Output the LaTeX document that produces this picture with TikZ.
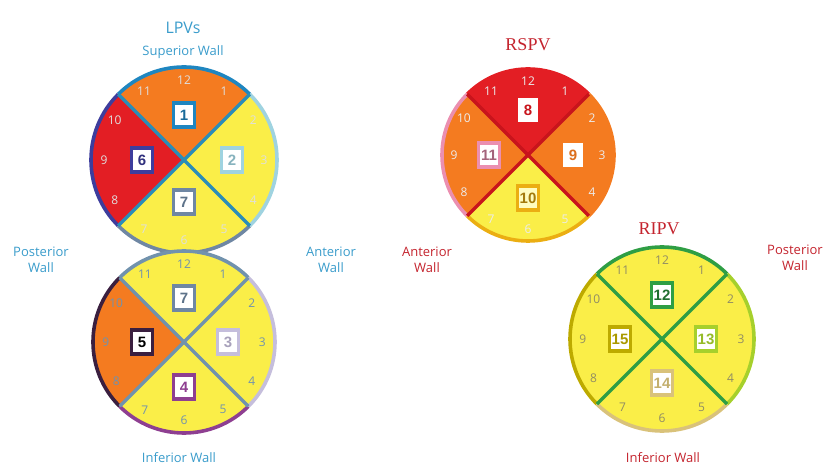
\documentclass[tikz,border=0pt]{standalone}
\usepackage{fontspec}
\setmainfont{Open Sans}
\newfontfamily\boxfont{Liberation Sans}
\newfontfamily\veinfont{Liberation Serif}
\usepackage{tikz}
\usetikzlibrary{positioning}

% sector colours
\definecolor{segRed}{HTML}{E31E24}
\definecolor{segOrange}{HTML}{F47B20}
\definecolor{segYellow}{HTML}{FAEE48}
\definecolor{lpvText}{HTML}{3A9CCB}
\definecolor{rpvText}{HTML}{C4242E}
% LPV rims and boxes
\definecolor{lpvLine}{HTML}{2A8DB8}
\definecolor{lpvLineB}{HTML}{7192AD}
\definecolor{lpvBlue}{HTML}{1F86C0}
\definecolor{lpvNavy}{HTML}{3D3D9D}
\definecolor{lpvSky}{HTML}{9FD3E0}
\definecolor{lpvSlate}{HTML}{6F87A3}
\definecolor{lpvPlum}{HTML}{3A1F3F}
\definecolor{lpvLilac}{HTML}{C5BEDC}
\definecolor{lpvPurple}{HTML}{8E3F91}
% RSPV
\definecolor{rsLine}{HTML}{C8141C}
\definecolor{rsPink}{HTML}{EB8FB0}
\definecolor{rsGold}{HTML}{EBAE12}
% RIPV
\definecolor{riGreen}{HTML}{2F9E44}
\definecolor{riLime}{HTML}{A6D02C}
\definecolor{riTan}{HTML}{D9C27A}
\definecolor{riOlive}{HTML}{BDAA00}

% #1 centre, #2 radius, #3 angle/fill/rim list, #4 divider colour, #5 clock colour
\newcommand{\veindisk}[5]{%
  \foreach \a/\fc/\rc in {#3}{
    \fill[\fc] (#1) -- ++(\a:#2) arc[start angle=\a, delta angle=90, radius=#2] -- cycle;
  }
  \foreach \a/\fc/\rc in {#3}{
    \draw[rim, \rc] ([shift={(\a:#2)}]#1) arc[start angle=\a, delta angle=90, radius=#2];
  }
  \draw[divider, #4] ([shift={(45:#2)}]#1) -- ([shift={(225:#2)}]#1);
  \draw[divider, #4] ([shift={(135:#2)}]#1) -- ([shift={(-45:#2)}]#1);
  \foreach \h in {1,...,12}
    \node[clock, text=#5] (#1-\h) at ([shift={({90-30*\h}:{0.86*#2})}]#1) {\h};
}

\begin{document}
\begin{tikzpicture}[x=1pt, y=1pt, node distance=4pt]
\tikzset{
  rim/.style={line width=3.6pt},
  divider/.style={line width=3.2pt},
  clock/.style={font=\fontsize{12}{12}\selectfont, inner sep=0pt},
  segbox/.style={draw, line width=3.2pt, fill=white, inner sep=2.5pt,
    minimum width=21pt, minimum height=24pt,
    font=\boxfont\bfseries\fontsize{15}{15}\selectfont},
  wall/.style={align=center, font=\fontsize{13}{16}\selectfont},
  vein/.style={font=\veinfont\fontsize{18}{18}\selectfont, text=rpvText}
}
\useasboundingbox (0,0) rectangle (828,466);

\coordinate (lt) at (184,306);
\coordinate (lb) at (184,124);
\coordinate (rs) at (528,311);
\coordinate (ri) at (662,127);

% LPVs
\veindisk{lt}{93}{45/segOrange/lpvBlue, 135/segRed/lpvNavy, 225/segYellow/lpvSlate, -45/segYellow/lpvSky}{lpvLine}{white!75!gray}
\veindisk{lb}{91}{45/segYellow/lpvLineB, 135/segOrange/lpvPlum, 225/segYellow/lpvPurple, -45/segYellow/lpvLilac}{lpvLineB}{lpvLineB}

\node[segbox, draw=lpvBlue, text=lpvBlue!80!black] (s1) at ([shift={(90:45)}]lt) {1};
\node[segbox, draw=lpvSky, text=lpvSky!85!black] (s2) at ([shift={(0:48)}]lt) {2};
\node[segbox, draw=lpvNavy, text=lpvNavy!80!black] (s6) at ([shift={(180:42)}]lt) {6};
\node[segbox, draw=lpvSlate, text=lpvSlate!85!black] (s7a) at ([shift={(270:42)}]lt) {7};
\node[segbox, draw=lpvSlate, text=lpvSlate!85!black] (s7b) at ([shift={(90:44)}]lb) {7};
\node[segbox, draw=lpvLilac, text=lpvLilac!85!black] (s3) at ([shift={(0:44)}]lb) {3};
\node[segbox, draw=lpvPlum, text=black] (s5) at ([shift={(180:42)}]lb) {5};
\node[segbox, draw=lpvPurple, text=lpvPurple] (s4) at ([shift={(270:45)}]lb) {4};

\node[wall, text=lpvText] (lsup) at (183,414) {Superior Wall};
\node[text=lpvText, font=\fontsize{16}{16}\selectfont, above=5pt of lsup] (lpv) {LPVs};
\node[wall, text=lpvText] (lpost) at (41,206) {Posterior\\Wall};
\node[wall, text=lpvText] (lant) at (331,206) {Anterior\\Wall};
\node[wall, text=lpvText, anchor=south] (linf) at (179,0) {Inferior Wall};

% RSPV
\veindisk{rs}{86}{45/segRed/segRed, 135/segOrange/rsPink, 225/segYellow/rsGold, -45/segOrange/segOrange}{rsLine}{white!85!gray}

\node[segbox, draw=white, text=rsLine, minimum width=17pt, minimum height=21pt] (s8) at ([shift={(90:45)}]rs) {8};
\node[segbox, draw=white, text=segOrange!90!black, minimum width=17pt, minimum height=21pt] (s9) at ([shift={(0:45)}]rs) {9};
\node[segbox, draw=rsPink, text=rsPink!70!black] (s11) at ([shift={(180:39)}]rs) {11};
\node[segbox, draw=rsGold, fill=yellow!25, text=rsGold!70!black] (s10) at ([shift={(270:43)}]rs) {10};

\node[vein] (rspv) at (528,421) {RSPV};
\node[wall, text=rpvText] (rant) at (427,206) {Anterior\\Wall};

% RIPV
\veindisk{ri}{92}{45/segYellow/riGreen, 135/segYellow/riOlive, 225/segYellow/riTan, -45/segYellow/riLime}{riGreen}{gray!70!olive}

\node[segbox, draw=riGreen, text=riGreen!70!black] (s12) at ([shift={(90:44)}]ri) {12};
\node[segbox, draw=riLime, text=riLime!90!black] (s13) at ([shift={(0:44)}]ri) {13};
\node[segbox, draw=riTan, text=riTan!90!black] (s14) at ([shift={(270:44)}]ri) {14};
\node[segbox, draw=riOlive, text=riOlive!90!black] (s15) at ([shift={(180:42)}]ri) {15};

\node[vein] (ripv) at (659,237) {RIPV};
\node[wall, text=rpvText] (rpost) at (795,208) {Posterior\\Wall};
\node[wall, text=rpvText] (rinf) at (663,8) {Inferior Wall};
\end{tikzpicture}
\end{document}
